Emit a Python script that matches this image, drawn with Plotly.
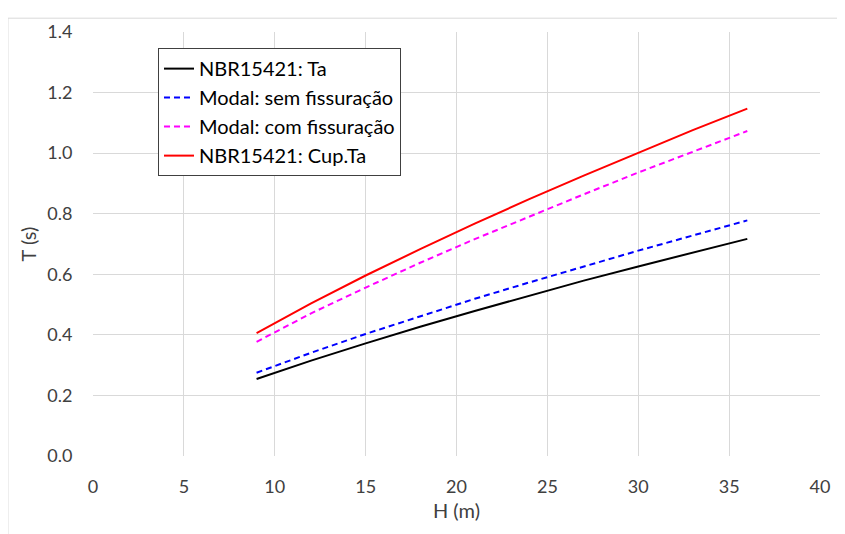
import plotly.graph_objects as go

H = [9, 12, 15, 18, 21, 24, 27, 30, 33, 36]
ta = [0.254, 0.315, 0.372, 0.427, 0.479, 0.530, 0.579, 0.626, 0.672, 0.717]
modal_sem = [0.275, 0.341, 0.403, 0.462, 0.519, 0.573, 0.626, 0.678, 0.728, 0.778]
modal_com = [0.377, 0.471, 0.556, 0.638, 0.716, 0.791, 0.864, 0.936, 1.005, 1.073]
cup_ta = [0.406, 0.504, 0.596, 0.683, 0.767, 0.848, 0.926, 1.002, 1.076, 1.147]

x_ticks = [0, 5, 10, 15, 20, 25, 30, 35, 40]
y_ticks = [0.0, 0.2, 0.4, 0.6, 0.8, 1.0, 1.2, 1.4]
y_labels = ["0.0", "0.2", "0.4", "0.6", "0.8", "1.0", "1.2", "1.4"]

FONT = "Lato"
TXT = "#404040"
fig = go.Figure()
fig.add_trace(go.Scatter(x=H, y=ta, mode="lines", name="NBR15421: Ta",
                         line=dict(color="#000000", width=2)))
fig.add_trace(go.Scatter(x=H, y=modal_sem, mode="lines", name="Modal: sem fissuração",
                         line=dict(color="#0000ff", width=2, dash="6px,4px")))
fig.add_trace(go.Scatter(x=H, y=modal_com, mode="lines", name="Modal: com fissuração",
                         line=dict(color="#ff00ff", width=2, dash="6px,4px")))
fig.add_trace(go.Scatter(x=H, y=cup_ta, mode="lines", name="NBR15421: Cup.Ta",
                         line=dict(color="#ff0000", width=2)))

axis_common = dict(showgrid=True, gridcolor="#d9d9d9", gridwidth=1, zeroline=False,
                   showline=False, ticks="outside", tickcolor="rgba(0,0,0,0)",
                   tickfont=dict(family=FONT, size=18, color=TXT))
fig.update_layout(
    width=845, height=534,
    margin=dict(l=85, r=33, t=18, b=86),
    paper_bgcolor="white", plot_bgcolor="white",
    font=dict(family=FONT, size=18, color=TXT),
    xaxis=dict(range=[0, 40], tickvals=x_ticks, ticktext=[str(v) for v in x_ticks], ticklen=14,
               title=dict(text="H (m)", font=dict(family=FONT, size=20, color=TXT), standoff=8),
               **axis_common),
    yaxis=dict(range=[0, 1.4], tickvals=y_ticks, ticktext=y_labels, ticklen=16,
               title=dict(text="T (s)", font=dict(family=FONT, size=20, color=TXT), standoff=5),
               **axis_common),
    legend=dict(x=0.0894, y=0.962, xanchor="left", yanchor="top",
                bgcolor="white", bordercolor="#404040", borderwidth=1,
                font=dict(family=FONT, size=20, color="#000000"), itemwidth=30),
    showlegend=True,
)
fig.add_shape(type="rect", xref="paper", yref="paper",
              x0=-0.117, x1=1.2, y0=-0.3, y1=1.0326,
              line=dict(color="#d9d9d9", width=1), fillcolor="rgba(0,0,0,0)", layer="below")
fig.write_html("out.html")
